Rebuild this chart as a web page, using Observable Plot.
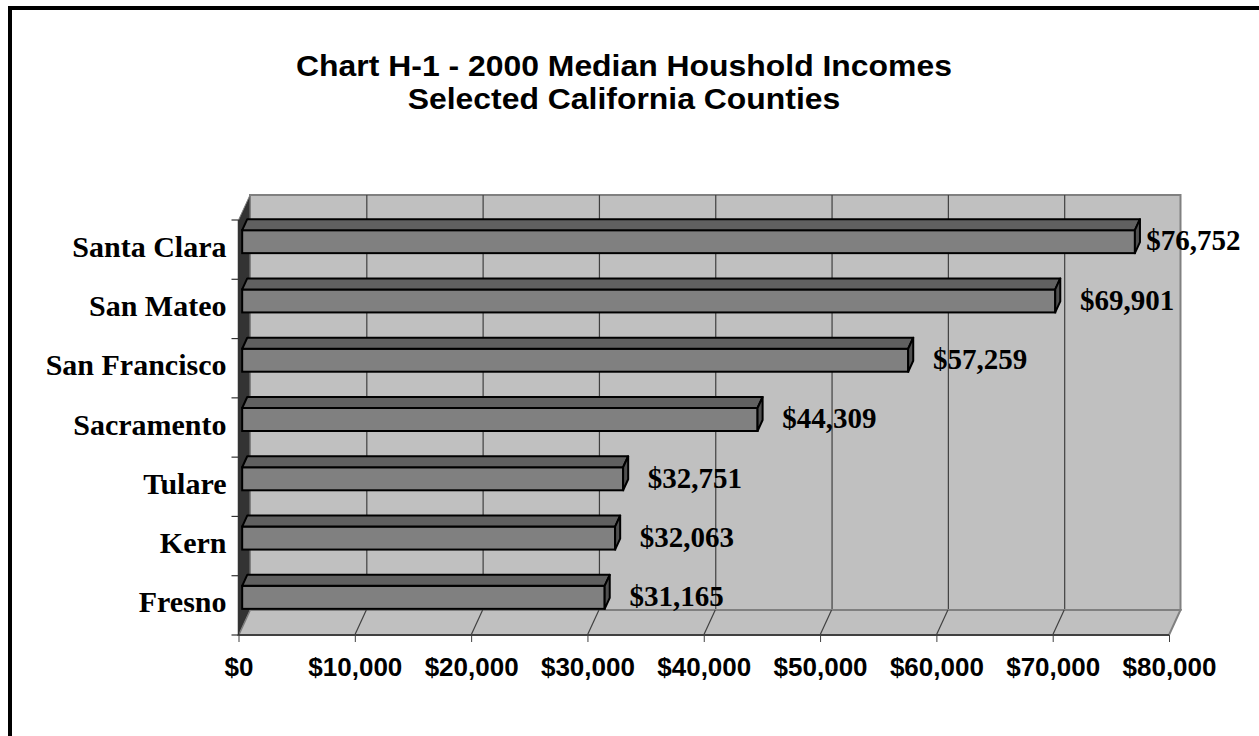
<!DOCTYPE html>
<html>
<head>
<meta charset="utf-8">
<script src="https://cdn.jsdelivr.net/npm/d3@7"></script>
<script src="https://cdn.jsdelivr.net/npm/@observablehq/plot@0.6"></script>
<style>
  html, body { margin: 0; padding: 0; background: #fff; overflow: hidden; }
  #wrap { position: relative; width: 1259px; height: 736px; overflow: hidden; }
  #frame { position: absolute; left: 8px; top: 6px; width: 1400px; height: 900px;
           border: 4px solid #000; box-sizing: border-box; z-index: 3; pointer-events: none; }
  .tline { position: absolute; left: 0; width: 1248px; text-align: center;
           font-family: "Liberation Sans", Arial, sans-serif; font-weight: bold; font-size: 29px;
           line-height: 32.5px; color: #000; white-space: nowrap;
           transform: scaleX(1.1); transform-origin: 624px 50%; }
  #t1 { top: 50px; }
  #t2 { top: 82.5px; }
  #chart { position: absolute; left: 0; top: 140px; }
</style>
</head>
<body>
<div id="wrap">
  <div id="frame"></div>
  <div class="tline" id="t1">Chart H-1 - 2000 Median Houshold Incomes</div>
  <div class="tline" id="t2">Selected California Counties</div>
  <div id="chart"></div>
</div>
<script>
// ---- data (top to bottom as shown) ----
const counties = ["Santa Clara", "San Mateo", "San Francisco", "Sacramento", "Tulare", "Kern", "Fresno"];
const incomes  = [76752, 69901, 57259, 44309, 32751, 32063, 31165];
const xTicks   = [0, 10000, 20000, 30000, 40000, 50000, 60000, 70000, 80000];

// ---- derived table ----
const n = counties.length;
const rows = counties.map((c, i) => ({county: c, value: incomes[i], yc: n - 1 - i + 0.5}));
const xMax = d3.max(xTicks);
const fmt = d3.format("$,");

// 3-D depth (pixels for a full floor depth)
const DX = 11.5, DY = -25;
const D0 = 0.32, D1 = 0.76;   // bar depth span
const BH = 0.194;             // half bar height (band units)

function floorAndWalls(index, scales) {
  const {x, y} = scales;
  const g = d3.create("svg:g");
  const x0 = x(0), x1 = x(xMax), yb = y(0), yt = y(n);
  const poly = (pts) => pts.map(p => p.join(",")).join(" ");
  // floor
  g.append("polygon")
    .attr("points", poly([[x0, yb], [x1, yb], [x1 + DX, yb + DY], [x0 + DX, yb + DY]]))
    .attr("fill", "#c0c0c0").attr("stroke", "#808080").attr("stroke-width", 2);
  // floor gridlines
  for (const t of xTicks.slice(1, -1)) {
    g.append("line").attr("x1", x(t)).attr("y1", yb).attr("x2", x(t) + DX).attr("y2", yb + DY)
      .attr("stroke", "#404040").attr("stroke-width", 1.2);
  }
  // left wall
  g.append("polygon")
    .attr("points", poly([[x0, yb], [x0 + DX, yb + DY], [x0 + DX, yt + DY], [x0, yt]]))
    .attr("fill", "#333333").attr("stroke", "#808080").attr("stroke-width", 1);
  // front axis line (floor edge) and left edge
  g.append("line").attr("x1", x0).attr("y1", yb).attr("x2", x1).attr("y2", yb)
    .attr("stroke", "#404040").attr("stroke-width", 2);
  g.append("line").attr("x1", x0).attr("y1", yt).attr("x2", x0).attr("y2", yb)
    .attr("stroke", "#333333").attr("stroke-width", 1.5);
  // y ticks at band boundaries
  for (let k = 0; k <= n; k++) {
    g.append("line").attr("x1", x0 - 7).attr("y1", y(k)).attr("x2", x0).attr("y2", y(k))
      .attr("stroke", "#333333").attr("stroke-width", 1.2);
  }
  return g.node();
}

function barFaces(index, scales) {
  const {x, y} = scales;
  const g = d3.create("svg:g");
  const poly = (pts) => pts.map(p => p.join(",")).join(" ");
  for (const r of rows) {
    const xl = x(0), xr = x(r.value), ytop = y(r.yc + BH), ybot = y(r.yc - BH);
    const p = (xx, yy, d) => [xx + d * DX, yy + d * DY];
    // top face
    g.append("polygon")
      .attr("points", poly([p(xl, ytop, D0), p(xr, ytop, D0), p(xr, ytop, D1), p(xl, ytop, D1)]))
      .attr("fill", "#606060").attr("stroke", "#000").attr("stroke-width", 2).attr("stroke-linejoin", "round");
    // side face
    g.append("polygon")
      .attr("points", poly([p(xr, ytop, D0), p(xr, ybot, D0), p(xr, ybot, D1), p(xr, ytop, D1)]))
      .attr("fill", "#505050").attr("stroke", "#000").attr("stroke-width", 2).attr("stroke-linejoin", "round");
  }
  return g.node();
}

const chart = Plot.plot({
  width: 1259,
  height: 596,
  marginLeft: 238.5,
  marginRight: 90,
  marginTop: 80,
  marginBottom: 101,
  style: {background: "transparent", fontFamily: "'Liberation Sans', Arial, sans-serif", color: "#000"},
  x: {domain: [0, xMax], label: null},
  y: {domain: [0, n], axis: null, label: null},
  marks: [
    // back wall
    Plot.rect([0], {x1: () => 0, x2: () => xMax, y1: () => 0, y2: () => n, dx: DX, dy: DY,
      fill: "#c0c0c0", stroke: "#808080", strokeWidth: 2}),
    // back-wall gridlines
    Plot.ruleX(xTicks.slice(1, -1), {y1: () => 0, y2: () => n, dx: DX, dy: DY, stroke: "#404040", strokeWidth: 1.2}),
    floorAndWalls,
    // bar front faces
    Plot.rect(rows, {x1: () => 0, x2: "value", y1: d => d.yc - BH, y2: d => d.yc + BH,
      dx: D0 * DX, dy: D0 * DY, fill: "#808080", stroke: "#000", strokeWidth: 2}),
    barFaces,
    // x axis
    Plot.axisX(xTicks, {tickFormat: fmt, tickSize: 7, tickPadding: 15, fontSize: 26, fontWeight: "bold",
      stroke: "#404040", fill: "#000", label: null}),
    // category labels
    Plot.text(rows, {x: () => 0, y: "yc", text: "county", textAnchor: "end", dx: -12.5, dy: -3,
      fontFamily: "'Liberation Serif', 'Times New Roman', serif", fontSize: 30, fontWeight: "bold", fill: "#000"}),
    // value labels
    Plot.text(rows, {x: d => Math.min(d.value + 2400, 78000), y: "yc", text: d => fmt(d.value),
      textAnchor: "start", dy: -9,
      fontFamily: "'Liberation Serif', 'Times New Roman', serif", fontSize: 29, fontWeight: "bold", fill: "#000"})
  ]
});
document.getElementById("chart").appendChild(chart);
</script>
</body>
</html>
